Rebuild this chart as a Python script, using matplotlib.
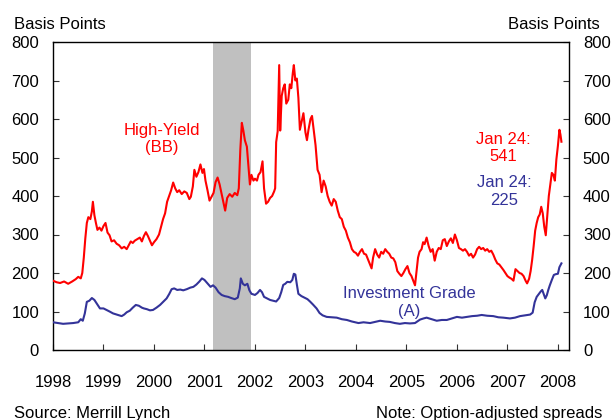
# -*- coding: utf-8 -*-
"""
Corporate bond spreads, high-yield (BB) vs investment grade (A), 1998-2008.
Values read off the Merrill Lynch chart (basis points, option-adjusted).
"""
import matplotlib
matplotlib.use("Agg")
import matplotlib.pyplot as plt

plt.rcParams["font.family"] = ["Liberation Sans", "DejaVu Sans"]

# ---- data -------------------------------------------------------------
HY_YEARS = [
    1998.00, 1998.07, 1998.14, 1998.22, 1998.30, 1998.38, 1998.45, 1998.50, 1998.55, 1998.58,
    1998.61, 1998.64, 1998.67, 1998.70, 1998.74, 1998.77, 1998.79, 1998.82, 1998.85, 1998.88,
    1998.92, 1998.96, 1999.00, 1999.04, 1999.08, 1999.12, 1999.16, 1999.21, 1999.26, 1999.31,
    1999.36, 1999.41, 1999.46, 1999.50, 1999.54, 1999.58, 1999.62, 1999.67, 1999.72, 1999.76,
    1999.80, 1999.84, 1999.88, 1999.92, 1999.96, 2000.00, 2000.05, 2000.10, 2000.14, 2000.18,
    2000.22, 2000.26, 2000.30, 2000.34, 2000.38, 2000.42, 2000.46, 2000.50, 2000.55, 2000.60,
    2000.65, 2000.70, 2000.73, 2000.77, 2000.80, 2000.84, 2000.88, 2000.92, 2000.96, 2000.99,
    2001.02, 2001.06, 2001.10, 2001.14, 2001.18, 2001.22, 2001.26, 2001.30, 2001.34, 2001.38,
    2001.41, 2001.45, 2001.50, 2001.55, 2001.60, 2001.65, 2001.68, 2001.71, 2001.74, 2001.77,
    2001.80, 2001.84, 2001.87, 2001.90, 2001.93, 2001.97, 2002.00, 2002.04, 2002.07, 2002.11,
    2002.15, 2002.18, 2002.22, 2002.26, 2002.30, 2002.34, 2002.38, 2002.40, 2002.42, 2002.45,
    2002.48, 2002.50, 2002.53, 2002.56, 2002.59, 2002.62, 2002.66, 2002.69, 2002.72, 2002.75,
    2002.77, 2002.80, 2002.83, 2002.86, 2002.89, 2002.92, 2002.96, 2003.00, 2003.03, 2003.06,
    2003.10, 2003.13, 2003.16, 2003.20, 2003.24, 2003.28, 2003.32, 2003.36, 2003.40, 2003.44,
    2003.48, 2003.52, 2003.56, 2003.60, 2003.64, 2003.68, 2003.72, 2003.76, 2003.80, 2003.84,
    2003.88, 2003.92, 2003.96, 2004.00, 2004.04, 2004.08, 2004.12, 2004.16, 2004.20, 2004.24,
    2004.28, 2004.31, 2004.34, 2004.38, 2004.42, 2004.46, 2004.50, 2004.54, 2004.58, 2004.62,
    2004.66, 2004.70, 2004.74, 2004.78, 2004.82, 2004.86, 2004.90, 2004.94, 2004.98, 2005.02,
    2005.06, 2005.10, 2005.14, 2005.17, 2005.20, 2005.23, 2005.26, 2005.30, 2005.33, 2005.36,
    2005.40, 2005.44, 2005.48, 2005.52, 2005.56, 2005.60, 2005.64, 2005.68, 2005.72, 2005.76,
    2005.80, 2005.84, 2005.88, 2005.92, 2005.96, 2006.00, 2006.04, 2006.08, 2006.12, 2006.16,
    2006.20, 2006.24, 2006.28, 2006.32, 2006.36, 2006.40, 2006.44, 2006.48, 2006.52, 2006.56,
    2006.60, 2006.64, 2006.68, 2006.72, 2006.76, 2006.80, 2006.84, 2006.88, 2006.92, 2006.96,
    2007.00, 2007.04, 2007.08, 2007.12, 2007.16, 2007.20, 2007.24, 2007.28, 2007.32, 2007.36,
    2007.39, 2007.43, 2007.46, 2007.49, 2007.52, 2007.55, 2007.58, 2007.61, 2007.64, 2007.67,
    2007.70, 2007.73, 2007.76, 2007.79, 2007.82, 2007.85, 2007.88, 2007.91, 2007.94, 2007.97,
    2008.00, 2008.03, 2008.05, 2008.07,
]
HY_BP = [
    180, 176, 174, 178, 172, 178, 184, 190, 186, 200,
    240, 290, 330, 345, 340, 360, 385, 350, 330, 312,
    318, 310, 322, 330, 305, 298, 282, 285, 276, 272,
    264, 268, 262, 272, 282, 278, 284, 288, 292, 282,
    296, 306, 296, 284, 272, 280, 288, 300, 320, 340,
    355, 385, 400, 415, 435, 420, 410, 415, 405, 412,
    408, 392, 398, 425, 468, 450, 462, 482, 460, 470,
    440, 415, 388, 398, 408, 436, 448, 430, 405, 380,
    362, 395, 405, 398, 408, 402, 420, 520, 590, 570,
    545, 528, 480, 430, 455, 440, 445, 440, 455, 462,
    490, 420, 380, 385, 395, 400, 412, 420, 540, 568,
    740, 570, 660, 680, 690, 640, 650, 690, 680, 720,
    740, 700, 705, 655, 572, 590, 615, 565, 545, 572,
    600, 608, 575, 532, 468, 455, 410, 440, 425, 400,
    385, 375, 392, 385, 362, 345, 340, 320, 310, 292,
    280, 262, 255, 252, 245, 255, 262, 250, 248, 235,
    222, 212, 240, 262, 248, 240, 255, 250, 262, 255,
    250, 240, 238, 228, 205, 198, 192, 200, 210, 218,
    200, 192, 178, 168, 205, 240, 255, 262, 280, 275,
    292, 270, 255, 262, 232, 255, 265, 262, 285, 288,
    270, 282, 290, 278, 300, 285, 265, 262, 258, 262,
    255, 245, 250, 240, 248, 262, 268, 262, 265, 258,
    262, 255, 258, 248, 235, 225, 222, 215, 208, 200,
    192, 188, 185, 180, 210, 205, 200, 198, 192, 180,
    173, 185, 205, 234, 270, 310, 330, 345, 352, 372,
    355, 320, 298, 350, 400, 430, 460, 455, 440, 495,
    530, 572, 560, 541,
]

IG_YEARS = [
    1998.00, 1998.10, 1998.20, 1998.30, 1998.40, 1998.50, 1998.55, 1998.59, 1998.63, 1998.67,
    1998.72, 1998.77, 1998.82, 1998.87, 1998.93, 1999.00, 1999.06, 1999.12, 1999.19, 1999.26,
    1999.31, 1999.36, 1999.41, 1999.46, 1999.52, 1999.58, 1999.64, 1999.70, 1999.76, 1999.80,
    1999.86, 1999.92, 1999.98, 2000.05, 2000.12, 2000.18, 2000.25, 2000.30, 2000.35, 2000.40,
    2000.46, 2000.52, 2000.58, 2000.65, 2000.72, 2000.78, 2000.84, 2000.90, 2000.95, 2001.00,
    2001.04, 2001.08, 2001.12, 2001.17, 2001.22, 2001.28, 2001.34, 2001.40, 2001.47, 2001.53,
    2001.60, 2001.66, 2001.70, 2001.72, 2001.76, 2001.80, 2001.85, 2001.89, 2001.93, 2002.00,
    2002.05, 2002.10, 2002.14, 2002.18, 2002.24, 2002.30, 2002.36, 2002.42, 2002.48, 2002.52,
    2002.56, 2002.60, 2002.64, 2002.70, 2002.74, 2002.77, 2002.80, 2002.83, 2002.86, 2002.92,
    2002.98, 2003.04, 2003.09, 2003.15, 2003.22, 2003.28, 2003.34, 2003.42, 2003.52, 2003.62,
    2003.72, 2003.82, 2003.92, 2004.05, 2004.15, 2004.28, 2004.38, 2004.48, 2004.58, 2004.67,
    2004.77, 2004.87, 2004.97, 2005.07, 2005.17, 2005.27, 2005.34, 2005.40, 2005.50, 2005.60,
    2005.70, 2005.80, 2005.90, 2006.00, 2006.10, 2006.20, 2006.30, 2006.40, 2006.49, 2006.60,
    2006.72, 2006.82, 2006.92, 2007.05, 2007.15, 2007.25, 2007.35, 2007.45, 2007.50, 2007.54,
    2007.58, 2007.62, 2007.66, 2007.69, 2007.72, 2007.75, 2007.78, 2007.81, 2007.84, 2007.88,
    2007.92, 2007.96, 2008.00, 2008.03, 2008.07,
]
IG_BP = [
    72, 70, 68, 69, 70, 72, 80, 76, 95, 125,
    128, 135, 130, 120, 108, 108, 104, 100, 95, 92,
    90, 88, 92, 98, 102, 110, 117, 115, 110, 108,
    106, 103, 104, 110, 117, 125, 134, 145, 158, 160,
    156, 157, 155, 158, 162, 164, 170, 178, 186, 182,
    176, 170, 164, 168, 162, 150, 143, 140, 138, 135,
    132, 136, 160, 186, 172, 168, 172, 155, 146, 143,
    148, 156, 150, 138, 134, 130, 128, 126, 135, 150,
    169, 172, 177, 176, 182, 198, 196, 170, 146, 140,
    136, 132, 126, 118, 108, 96, 90, 86, 85, 84,
    80, 78, 74, 70, 72, 70, 73, 76, 74, 73,
    70, 68, 70, 69, 70, 79, 82, 84, 80, 76,
    78, 78, 82, 86, 84, 86, 88, 89, 91, 89,
    88, 85, 84, 82, 84, 88, 90, 92, 97, 124,
    138, 145, 152, 156, 145, 134, 142, 156, 168, 182,
    195, 197, 198, 215, 225,
]

RECESSION = (2001.17, 2001.92)  # Mar 2001 - Nov 2001
YEAR_TICKS = list(range(1998, 2009))
BP_TICKS = list(range(0, 801, 100))

RED = "#ff0000"
BLUE = "#333399"


def main():
    fig = plt.figure(figsize=(6.13, 4.2), dpi=100)
    ax = fig.add_axes([53 / 613, 70 / 420, 516 / 613, 308 / 420])

    ax.axvspan(*RECESSION, color="#c0c0c0", lw=0, zorder=0)
    ax.plot(HY_YEARS, HY_BP, color=RED, lw=1.5, zorder=3)
    ax.plot(IG_YEARS, IG_BP, color=BLUE, lw=1.5, zorder=3)

    ax.set_xlim(1998, 2008.22)
    ax.set_ylim(0, 800)
    ax.set_xticks(YEAR_TICKS)
    ax.set_yticks(BP_TICKS)
    ax.tick_params(axis="both", direction="in", length=4.5, width=0.8,
                   labelsize=12, color="#333333")
    ax.tick_params(axis="y", left=True, right=True, labelleft=True,
                   labelright=True, pad=10)
    ax.tick_params(axis="x", pad=18)
    for sp in ax.spines.values():
        sp.set_linewidth(1.0)

    # labels inside the plot
    ax.text(2000.16, 548, "High-Yield\n(BB)", color=RED, fontsize=12,
            ha="center", va="center")
    ax.text(2006.91, 525, "Jan 24:\n541", color=RED, fontsize=12,
            ha="center", va="center")
    ax.text(2006.93, 412, "Jan 24:\n225", color=BLUE, fontsize=12,
            ha="center", va="center")
    ax.text(2005.05, 123, "Investment Grade\n(A)", color=BLUE, fontsize=12,
            ha="center", va="center")

    fig.text(13.7 / 613, 0.931, "Basis Points", fontsize=12, va="baseline")
    fig.text(600 / 613, 0.931, "Basis Points", fontsize=12, va="baseline",
             ha="right")
    fig.text(13.7 / 613, 0.005, "Source: Merrill Lynch", fontsize=12,
             va="baseline")
    fig.text(602 / 613, 0.005, "Note: Option-adjusted spreads", fontsize=12,
             va="baseline", ha="right")

    fig.savefig("out.png", dpi=100)
    plt.close(fig)


if __name__ == "__main__":
    main()
